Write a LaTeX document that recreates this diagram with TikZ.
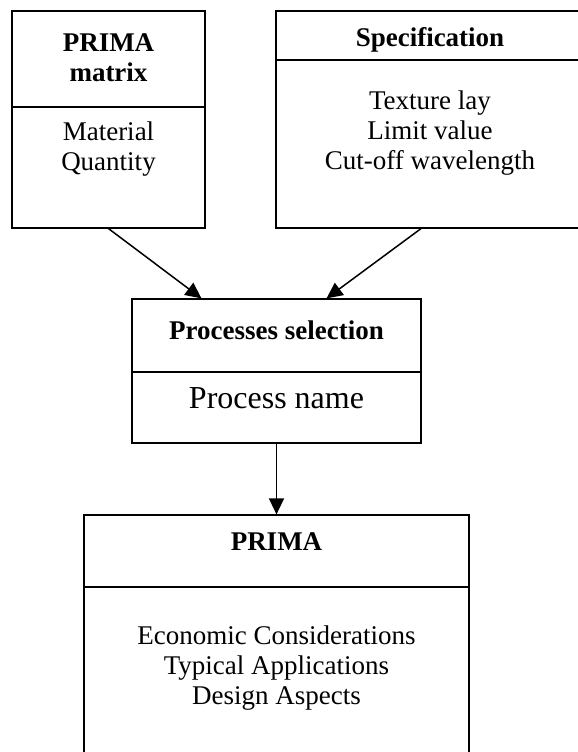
\documentclass[tikz,border=0pt]{standalone}
\usepackage{fontspec}
\setmainfont{Liberation Serif}
\usetikzlibrary{arrows.meta}

\begin{document}
\begin{tikzpicture}[x=1pt, y=1pt, line width=0.6pt,
                    box/.style={rectangle, draw, inner sep=0pt},
                    txt/.style={align=center, inner sep=0pt, font=\fontsize{13.5}{15}\selectfont},
                    head/.style={txt, font=\fontsize{13.5}{15}\selectfont\bfseries},
                    flow/.style={->, line width=0.75pt},
                    >={Triangle[length=8pt, width=7.5pt]}]
\useasboundingbox (0,0) rectangle (289,376);

% the four boxes
\node[box, minimum width=96.5pt, minimum height=108.5pt] (matrix) at (54.25,316.25) {};
\node[box, minimum width=154pt, minimum height=108.5pt] (spec) at (215,316.25) {};
\node[box, minimum width=144.5pt, minimum height=72pt] (sel) at (138.25,190.5) {};
\node[box, minimum width=192.5pt, minimum height=127.5pt] (prima) at (138.25,54.75) {};

% lines between heading and body
\draw (matrix.west) ++(0,6.25) -- ++(96.5,0);
\draw (spec.west) ++(0,29.75) -- ++(154,0);
\draw (sel.west) ++(0,-0.5) -- ++(144.5,0);
\draw (prima.west) ++(0,27.75) -- ++(192.5,0);

% texts
\node[head] (matrixhead) at (54.25,347) {PRIMA\\matrix};
\node[txt] (matrixbody) at (54.25,301.5) {Material\\Quantity};
\node[head] (spechead) at (215,356) {Specification};
\node[txt] (specbody) at (215,309.5) {Texture lay\\Limit value\\Cut-off wavelength};
\node[head] (selhead) at (138.25,211) {Processes selection};
\node[txt, font=\fontsize{16}{18}\selectfont] (selbody) at (138.25,177) {Process name};
\node[head] (primahead) at (138.25,105) {PRIMA};
\node[txt] (primabody) at (138.25,42) {Economic Considerations\\Typical Applications\\Design Aspects};

% arrows
\coordinate (specout) at ([xshift=-4.5pt]spec.south);
\coordinate (selinl) at ([xshift=-37.5pt]sel.north);
\coordinate (selinr) at ([xshift=25pt]sel.north);
\draw[flow] (matrix.south) -- (selinl);
\draw[flow] (specout) -- (selinr);
\draw[flow] (sel) -- (prima);
\end{tikzpicture}
\end{document}
